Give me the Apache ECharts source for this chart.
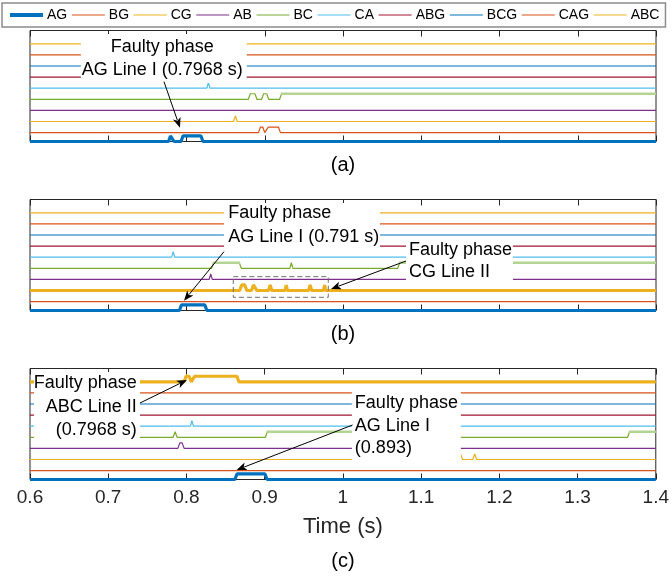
<!DOCTYPE html>
<html><head><meta charset="utf-8">
<script src="https://cdn.jsdelivr.net/npm/echarts@6/dist/echarts.min.js"></script>
<style>html,body{margin:0;padding:0;background:#fff}#c{width:672px;height:579px}</style>
</head><body><div id="c"></div>
<script>
// ---------- data ----------
const seriesNames = ['AG','BG','CG','AB','BC','CA','ABG','BCG','CAG','ABC'];
const xMin = 0.6, xMax = 1.4, xStep = 0.1;
const panelLabels = ['(a)','(b)','(c)'];
// "high" intervals [start, end] (s) for each signal, panel (a)
const pulsesA = [
  [[0.777,0.784],[0.793,0.821]],          // AG
  [[0.892,0.900],[0.902,0.920]],          // BG
  [[0.860,0.865]],                        // CG
  [],                                     // AB
  [[0.879,0.890],[0.896,0.905],[0.919,1.4]], // BC
  [[0.826,0.830]],                        // CA
  [], [], [], []                          // ABG BCG CAG ABC
];
const pulsesB = [
  [[0.791,0.826]],
  [],
  [[0.868,0.877],[0.883,0.890],[0.905,0.909],[0.926,0.929],[0.956,0.960],[0.975,0.978]],
  [[0.829,0.833]],
  [[0.832,0.870],[0.932,0.936],[1.070,1.4]],
  [[0.781,0.785]],
  [], [], [], []
];
const pulsesC = [
  [[0.862,0.903]],
  [],
  [[1.05,1.153],[1.166,1.171]],
  [[0.789,0.797]],
  [[0.783,0.788],[0.901,1.10],[1.364,1.4]],
  [[0.805,0.809]],
  [], [], [],
  [[0.797,0.806],[0.808,0.867]]
];
// latched (lighter drawn) plateaus of BC
const latchedA = [[0.919,1.4]];
const latchedB = [[0.832,0.870],[1.070,1.4]];
const latchedC = [[0.901,1.10],[1.364,1.4]];
// thick (faulty) traces per panel
const thickA = ['AG'];
const thickB = ['AG','CG'];
const thickC = ['AG','ABC'];

// ---------- style ----------
const colors = ['#0072BD','#D95319','#EDB120','#7E2F8E','#77AC30','#4DBEEE','#A2142F','#0072BD','#D95319','#EDB120'];
const baseLevels = [0,0.8,1.8,2.8,3.8,4.8,5.8,6.8,7.8,8.8];
const amp = 0.5, ramp = 0.0025;
const FONT = 'Liberation Sans, Arial, Helvetica, sans-serif';
const gridTops = [30.5, 199.5, 368.5];
const gridH = 111;

function buildTrace(intervals, base){
  const pts = [[xMin, base]];
  intervals.forEach(([a,b])=>{
    const r = Math.min(ramp, (b-a)/2);
    pts.push([a, base]);
    if (b >= xMax) { pts.push([a+r, base+amp]); pts.push([xMax, base+amp]); return; }
    pts.push([a+r, base+amp]);
    if (b-r > a+r) pts.push([b-r, base+amp]);
    pts.push([b, base]);
  });
  const last = pts[pts.length-1];
  if (last[0] < xMax) pts.push([xMax, base]);
  return pts;
}
function buildPlateau(intervals, base){
  const pts = [];
  intervals.forEach(([a,b])=>{
    if (pts.length) pts.push([null,null]);
    pts.push([a+ramp*0.6, base+amp]);
    pts.push([b>=xMax ? xMax : b-ramp*0.6, base+amp]);
  });
  return pts;
}

const chart = echarts.init(document.getElementById('c'), null, {renderer:'canvas'});
const grids = [], xAxes = [], yAxes = [], series = [];
const panels = [[pulsesA, latchedA, thickA],[pulsesB, latchedB, thickB],[pulsesC, latchedC, thickC]];
panels.forEach(([pulses, latched, thick], g)=>{
  grids.push({left:30, right:16, top:gridTops[g], height:gridH, show:true, borderColor:'#262626', borderWidth:1});
  const tickCommon = {show:true, inside:true, length:6, lineStyle:{color:'#262626', width:1}};
  xAxes.push({type:'value', gridIndex:g, min:xMin, max:xMax, interval:xStep, position:'bottom',
    axisLine:{show:false}, splitLine:{show:false}, axisTick:tickCommon,
    axisLabel: g===2 ? {show:true, fontSize:19, color:'#262626', fontFamily:FONT, margin:9} : {show:false},
    name: g===2 ? 'Time (s)' : '', nameLocation:'middle', nameGap:36,
    nameTextStyle:{fontSize:22, color:'#262626', fontFamily:FONT}});
  xAxes.push({type:'value', gridIndex:g, min:xMin, max:xMax, interval:xStep, position:'top',
    axisLine:{show:false}, splitLine:{show:false}, axisTick:tickCommon, axisLabel:{show:false}});
  yAxes.push({type:'value', gridIndex:g, min:0, max:10, show:true, axisLine:{show:false},
    axisTick:{show:false}, axisLabel:{show:false}, splitLine:{show:false}});
  seriesNames.forEach((n,i)=>{
    const isThick = thick.includes(n);
    series.push({type:'line', name:n, xAxisIndex:2*g, yAxisIndex:g, symbol:'none', clip:false,
      data: buildTrace(pulses[i], baseLevels[i]),
      lineStyle:{color:colors[i], width: isThick ? 3.2 : 1.2}, itemStyle:{color:colors[i]},
      z: isThick ? 3 : 2, emphasis:{disabled:true}, silent:true});
  });
  series.push({type:'line', name:'BC latched', xAxisIndex:2*g, yAxisIndex:g, symbol:'none', clip:false,
    data: buildPlateau(latched, baseLevels[4]), connectNulls:false,
    lineStyle:{color:'#b3d493', width:2.4}, itemStyle:{color:'#b3d493'}, z:2, silent:true});
});

chart.setOption({
  animation:false,
  backgroundColor:'#fff',
  textStyle:{fontFamily:FONT},
  legend:{
    top:3, left:2, padding:[5,6,5,6], itemGap:4, itemWidth:33, itemHeight:14,
    borderColor:'#8c8c8c', borderWidth:1.5, selectedMode:false,
    itemStyle:{color:'rgba(0,0,0,0)', borderWidth:0, opacity:0},
    textStyle:{fontSize:14, color:'#000', fontFamily:FONT, padding:[0,0,0,-1]},
    data: seriesNames.map((n,i)=>({name:n, itemStyle:{color:'rgba(0,0,0,0)', borderWidth:0, opacity:0},
      lineStyle:{width: n==='AG'?4:1.2, color:colors[i], opacity:1}}))
  },
  grid:grids, xAxis:xAxes, yAxis:yAxes, series:series
});

// ---------- annotations (in data coordinates: [time, level]) ----------
const textBoxes = [
  {g:0, box:[0.665,9.68,0.877,5.27], lines:['Faulty phase','AG Line I (0.7968 s)'], tx:0.769, ty:[8.54,6.44], align:'center'},
  {g:1, box:[0.8479,9.68,1.0473,5.36], lines:['Faulty phase','AG Line I (0.791 s)'], tx:0.8534, ty:[8.76,6.65], align:'left'},
  {g:1, box:[1.0805,6.44,1.2172,2.39], lines:['Faulty phase','CG Line II'], tx:1.0843, ty:[5.45,3.44], align:'left'},
  {g:2, box:[0.6051,9.68,0.7406,3.29], lines:['Faulty phase','ABC Line II','(0.7968 s)'], tx:0.7364, ty:[8.67,6.56,4.46], align:'right'},
  {g:2, box:[1.0115,8.33,1.1508,1.31], lines:['Faulty phase','AG Line I','(0.893)'], tx:1.0153, ty:[6.92,4.85,2.81], align:'left'}
];
const arrows = [
  {g:0, from:[0.7712,5.39], to:[0.7917,1.24]},
  {g:1, from:[0.8479,5.30], to:[0.7968,0.88]},
  {g:1, from:[1.0805,4.46], to:[0.9847,1.94]},
  {g:2, from:[0.7406,6.89], to:[0.8006,8.96]},
  {g:2, from:[1.0124,4.91], to:[0.8642,0.86]}
];
const dashedBoxes = [{g:1, box:[0.8598,3.05,0.9812,1.19]}];

function px(g, p){ return chart.convertToPixel({xAxisIndex:2*g, yAxisIndex:g}, p); }
const gfx = [];
textBoxes.forEach(tb=>{
  const p1 = px(tb.g,[tb.box[0],tb.box[1]]), p2 = px(tb.g,[tb.box[2],tb.box[3]]);
  gfx.push({type:'rect', z:50, shape:{x:p1[0], y:p1[1], width:p2[0]-p1[0], height:p2[1]-p1[1]}, style:{fill:'#fff'}, silent:true});
  tb.lines.forEach((t,k)=>{
    const p = px(tb.g,[tb.tx, tb.ty[k]]);
    gfx.push({type:'text', z:51, x:p[0], y:p[1], silent:true,
      style:{text:t, fill:'#000', font:'18px '+FONT, align:tb.align, verticalAlign:'middle', textAlign:tb.align, textVerticalAlign:'middle'}});
  });
});
arrows.forEach(a=>{
  const s = px(a.g,a.from), e = px(a.g,a.to);
  const dx = e[0]-s[0], dy = e[1]-s[1], L = Math.hypot(dx,dy), ux = dx/L, uy = dy/L;
  const hl = 10, hw = 4;
  const bx = e[0]-ux*hl, by = e[1]-uy*hl;
  gfx.push({type:'line', z:52, silent:true, shape:{x1:s[0], y1:s[1], x2:bx+ux*2, y2:by+uy*2}, style:{stroke:'#000', lineWidth:1}});
  gfx.push({type:'polygon', z:52, silent:true, shape:{points:[[e[0],e[1]],[bx-uy*hw, by+ux*hw],[bx+ux*2.5,by+uy*2.5],[bx+uy*hw, by-ux*hw]]}, style:{fill:'#000'}});
});
dashedBoxes.forEach(d=>{
  const p1 = px(d.g,[d.box[0],d.box[1]]), p2 = px(d.g,[d.box[2],d.box[3]]);
  gfx.push({type:'rect', z:52, silent:true, shape:{x:p1[0], y:p1[1], width:p2[0]-p1[0], height:p2[1]-p1[1]}, style:{fill:null, stroke:'#707070', lineWidth:1, lineDash:[5,3]}});
});
// panel captions, centred under each grid
const captionY = [165, 334, 561];
panelLabels.forEach((t,g)=>{
  gfx.push({type:'text', z:52, silent:true, x:343, y:captionY[g],
    style:{text:t, fill:'#000', font:'20px '+FONT, align:'center', verticalAlign:'middle', textAlign:'center', textVerticalAlign:'middle'}});
});
chart.setOption({graphic:{elements:gfx}});
</script></body></html>
